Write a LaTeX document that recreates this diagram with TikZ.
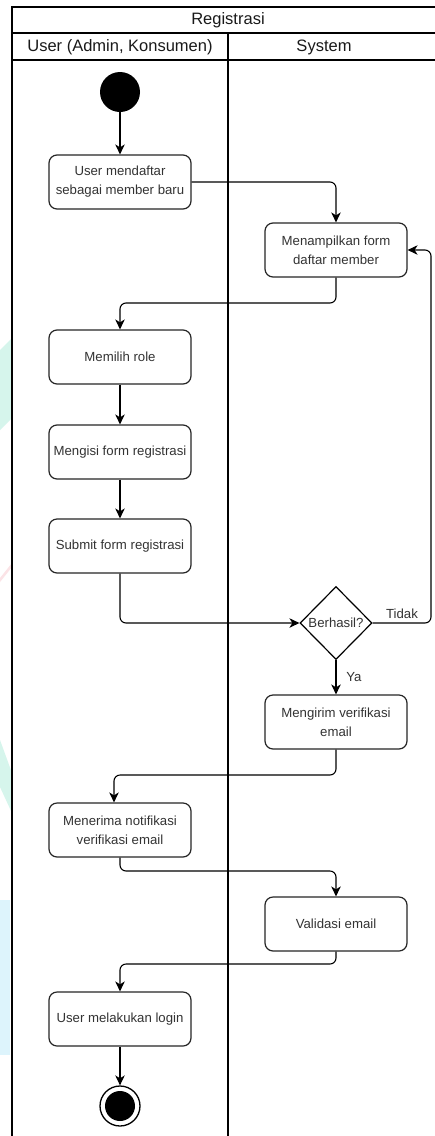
\documentclass[tikz,border=0pt]{standalone}
\usepackage{fontspec}
\setmainfont{Liberation Sans}
\usetikzlibrary{arrows.meta,shapes.geometric}
\definecolor{txt}{HTML}{333333}
\definecolor{bgreen}{HTML}{D6F5EC}
\definecolor{bpink}{HTML}{FBE3E6}
\definecolor{bblue}{HTML}{DDF4FC}
\begin{document}
\begin{tikzpicture}[x=1pt,y=-1pt,
  act/.style={draw=black!85, line width=1.2pt, rounded corners=8pt, minimum width=142pt,
    minimum height=54pt, align=center, font=\fontsize{13.2}{19}\selectfont, text=txt, inner sep=0pt},
  dec/.style={diamond, draw=black, line width=1.2pt, minimum width=72pt, minimum height=73pt,
    inner sep=0pt, font=\fontsize{13.2}{19}\selectfont, text=txt},
  flow/.style={draw=black, line width=1.1pt, rounded corners=6pt,
    -{Stealth[length=10pt,width=9.5pt,inset=3pt]}},
  lane/.style={draw=black, line width=1.3pt},
  head/.style={font=\fontsize{16.5}{20}\selectfont, text=black!90, inner sep=0pt},
  lbl/.style={font=\fontsize{13.2}{16}\selectfont, text=txt, inner sep=0pt}]
\useasboundingbox (0,0) rectangle (435,1136);
\clip (0,0) rectangle (435,1136);
\fill[white] (0,0) rectangle (435,1136);
% faint background remnants
\fill[bgreen] (0,350) -- (12,338) -- (12,418) -- (0,430) -- cycle;
\fill[bpink] (0,578) -- (12,563) -- (12,567) -- (0,582) -- cycle;
\fill[bgreen] (0,740) -- (12,773) -- (12,813) -- (0,787) -- cycle;
\fill[bblue] (0,900) rectangle (10,1055);
% pool and lanes
\draw[lane] (12,1140) -- (12,7) -- (440,7);
\draw[lane] (12,33) -- (440,33);
\draw[lane] (12,60) -- (440,60);
\draw[lane] (228,33) -- (228,1140);
\node[head] (title) at (228,20) {Registrasi};
\node[head] (laneU) at (120,47) {User (Admin, Konsumen)};
\node[head] (laneS) at (324,47) {System};
% nodes
\node[circle, fill=black, minimum size=40pt, inner sep=0pt] (start) at (120,92) {};
\node[act] (b1) at (120,182) {User mendaftar\\sebagai member baru};
\node[act] (b2) at (336,250) {Menampilkan form\\daftar member};
\node[act] (b3) at (120,357) {Memilih role};
\node[act] (b4) at (120,452) {Mengisi form registrasi};
\node[act] (b5) at (120,546) {Submit form registrasi};
\node[dec] (d1) at (336,623) {Berhasil?};
\node[act] (b6) at (336,722) {Mengirim verifikasi\\email};
\node[act] (b7) at (120,830) {Menerima notifikasi\\verifikasi email};
\node[act] (b8) at (336,924) {Validasi email};
\node[act] (b9) at (120,1019) {User melakukan login};
\node[circle, draw=black, line width=1.3pt, fill=white, minimum size=40pt, inner sep=0pt] (end) at (120,1106) {};
\node[circle, fill=black, minimum size=30pt, inner sep=0pt] (endin) at (end) {};
% connectors
\draw[flow] (start) -- (b1);
\draw[flow] (b1.east) -| (b2.north);
\draw[flow] (b2.south) |- (120,303) -- (b3.north);
\draw[flow] (b3) -- (b4);
\draw[flow] (b4) -- (b5);
\draw[flow] (b5.south) |- (d1.west);
\draw[flow] (d1.east) -- (431,623) -- (431,250) -- (b2.east);
\draw[flow] (d1.south) -- (b6.north);
\draw[flow] (b6.south) |- (114,775) -- ([xshift=-6pt]b7.north);
\draw[flow] (b7.south) |- (336,871) -- (b8.north);
\draw[flow] (b8.south) |- (120,964) -- (b9.north);
\draw[flow] (b9) -- (end);
% labels
\node[lbl] (tidak) at (402,614) {Tidak};
\node[lbl] (ya) at (354,677) {Ya};
\end{tikzpicture}
\end{document}
